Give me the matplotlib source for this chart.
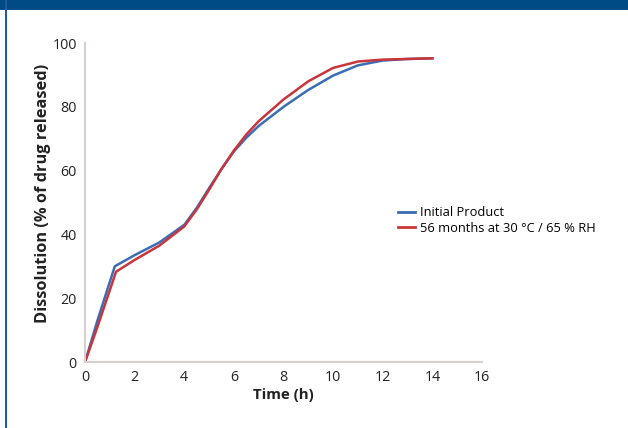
import matplotlib.pyplot as plt
from matplotlib.patches import Rectangle
from matplotlib.lines import Line2D

# dissolution profiles, % released vs time (h)
time_h = [0, 0.5, 1.2, 2, 3, 4, 4.5, 5, 5.5, 6, 6.5, 7, 8, 9, 10, 11, 12, 13, 14]
initial = [0, 13, 30, 33.5, 37.5, 43, 48.3, 54.5, 60.5, 66, 70.3, 74, 80, 85.3, 89.8, 93, 94.5, 95, 95.2]
time_h_aged = [0, 0.5, 1.25, 2, 3, 4, 4.5, 5, 5.5, 6, 6.5, 7, 8, 9, 10, 11, 12, 13, 14]
aged = [0, 11, 28.3, 32, 36.5, 42.5, 47.8, 54, 60.5, 66.3, 71.3, 75.5, 82.3, 88, 92.2, 94.2, 94.8, 95, 95.2]

series_names = ["Initial Product", "56 months at 30 \u00b0C / 65 % RH"]
series_colors = ["#3b6db5", "#c9353a"]

plt.rcParams['font.family'] = ['Open Sans', 'DejaVu Sans']

fig = plt.figure(figsize=(6.28, 4.28), dpi=100)
ax = fig.add_axes([0.1354, 0.1542, 0.6321, 0.7453])

ax.plot(time_h, initial, color=series_colors[0], lw=1.8, solid_joinstyle='round')
ax.plot(time_h_aged, aged, color=series_colors[1], lw=1.8, solid_joinstyle='round')

ax.set_xlim(0, 16)
ax.set_ylim(0, 100)
ax.set_xticks(range(0, 17, 2))
ax.set_yticks(range(0, 101, 20))
ax.tick_params(length=0, labelsize=10.3, colors='#222222', pad=6)
for side in ['top', 'right']:
    ax.spines[side].set_visible(False)
for side in ['left', 'bottom']:
    ax.spines[side].set_color('#d8d0ce')
    ax.spines[side].set_linewidth(1.5)

ax.set_xlabel('Time (h)', fontsize=10.8, fontweight='bold', color='#222222', labelpad=2)
ax.set_ylabel('Dissolution (% of drug released)', fontsize=11.8, fontweight='bold', color='#222222')
ax.yaxis.set_label_coords(-0.086, 0.53)

handles = [Line2D([], [], color=c, lw=2) for c in series_colors]
ax.legend(handles, series_names, loc='upper left', bbox_to_anchor=(0.775, 0.505), frameon=False,
          fontsize=9.3, handlelength=1.3, handletextpad=0.4, labelspacing=0.2, borderaxespad=0)

# page frame: header band and left rule
fig.patches.append(Rectangle((0, 1 - 10 / 428), 1, 10 / 428, transform=fig.transFigure,
                             facecolor='#004a86', edgecolor='none'))
fig.patches.append(Rectangle((5 / 628, 0), 2 / 628, 1, transform=fig.transFigure,
                             facecolor='#1d5c9e', edgecolor='none'))

plt.savefig('out.png', dpi=100)
